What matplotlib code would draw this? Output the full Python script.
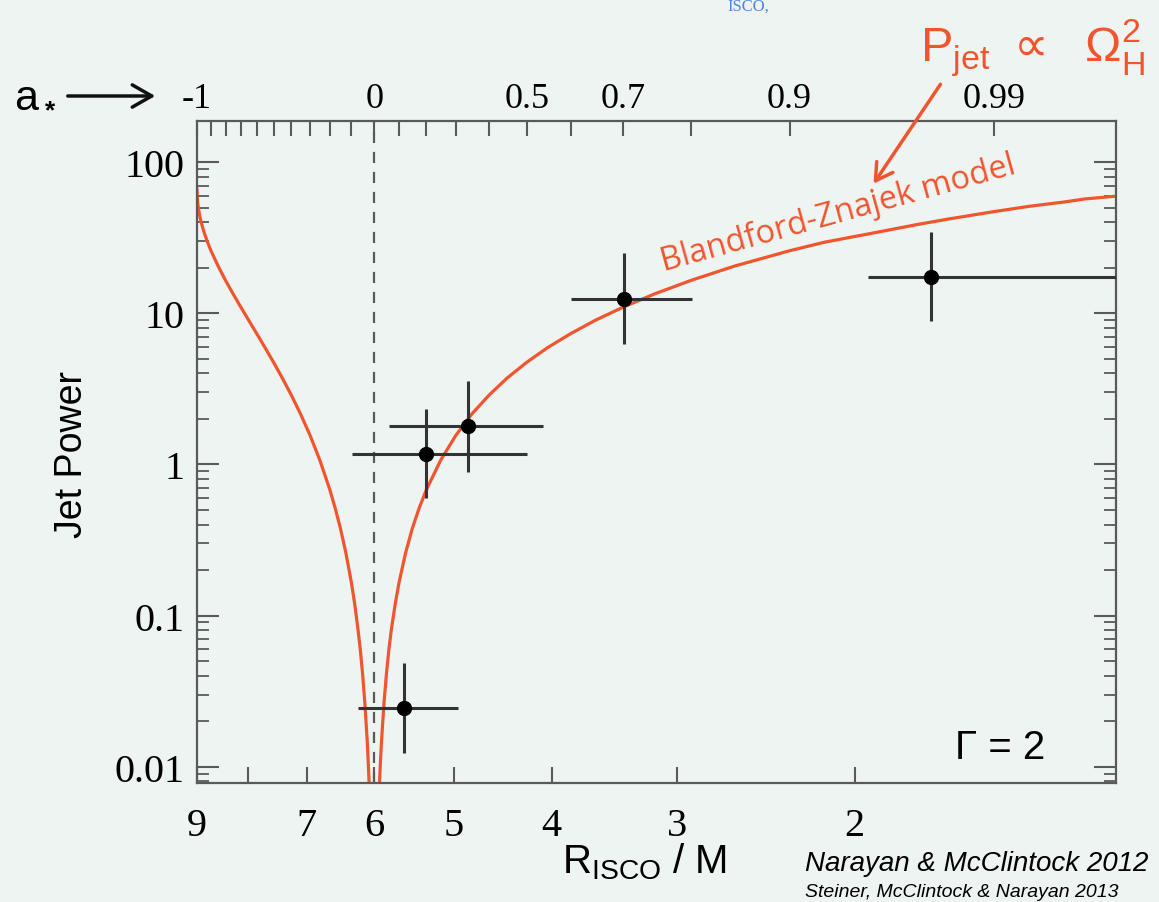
import numpy as np
import matplotlib
matplotlib.use('Agg')
import matplotlib.pyplot as plt

# measured jet powers (Narayan & McClintock 2012)
r_isco_obs = [5.60, 5.33, 4.84, 3.39, 1.68]
r_err_left = [6.23, 6.32, 5.80, 3.83, 1.94]   # larger R end of bar
r_err_right = [4.95, 4.23, 4.08, 2.90, 1.00]  # smaller R end of bar
p_jet = [0.0245, 1.17, 1.79, 12.4, 17.4]
p_err_hi = [0.0486, 2.32, 3.56, 25.0, 34.4]
p_err_lo = [0.0123, 0.60, 0.89, 6.25, 8.9]

# Blandford-Znajek curve (retrograde and prograde branches)
bz_left_r = [9.000, 8.997, 8.986, 8.972, 8.944, 8.916, 8.859, 8.788, 8.717, 8.575,
             8.432, 8.288, 8.143, 7.998, 7.851, 7.704, 7.555, 7.405, 7.254, 7.102,
             6.949, 6.795, 6.639, 6.561, 6.482, 6.403, 6.323, 6.275, 6.228, 6.195,
             6.163, 6.131, 6.098, 6.082, 6.065]
bz_left_p = [66.0, 60.3, 54.0, 49.7, 44.1, 40.2, 34.6, 29.65, 25.9, 20.5,
             16.5, 13.45, 11.0, 9.00, 7.33, 5.93, 4.74, 3.73, 2.875, 2.155,
             1.556, 1.065, 0.674, 0.513, 0.376, 0.260, 0.166, 0.1196, 0.0811, 0.0595,
             0.0413, 0.0264, 0.0149, 0.0103, 0.0066]
bz_right_r = [5.935, 5.918, 5.901, 5.868, 5.835, 5.803, 5.770, 5.719, 5.669, 5.585,
              5.501, 5.415, 5.329, 5.155, 4.979, 4.800, 4.614, 4.427, 4.233, 4.035,
              3.829, 3.617, 3.393, 3.158, 2.907, 2.633, 2.321, 2.143, 1.937, 1.738,
              1.614, 1.455, 1.341, 1.237, 1.182, 1.100]
bz_right_p = [0.0066, 0.0103, 0.0149, 0.0264, 0.0413, 0.0595, 0.0811, 0.1196, 0.166, 0.260,
              0.376, 0.513, 0.674, 1.065, 1.556, 2.155, 2.875, 3.73, 4.74, 5.93,
              7.33, 9.00, 11.0, 13.45, 16.5, 20.5, 25.9, 29.5, 33.5, 38.5,
              42.0, 47.0, 51.0, 54.5, 57.0, 59.5]

# axis ticks
r_ticks = [9, 8, 7, 6, 5, 4, 3, 2]
r_tick_text = ['9', '', '7', '6', '5', '4', '3', '2']
p_ticks = [0.01, 0.1, 1, 10, 100]
p_tick_text = ['0.01', '0.1', '1', '10', '100']
a_ticks = [-1.0, -0.9, -0.8, -0.7, -0.6, -0.5, -0.4, -0.3, -0.2, -0.1, 0.0,
           0.1, 0.2, 0.3, 0.4, 0.5, 0.6, 0.7, 0.8, 0.9, 0.99]
a_tick_text = ['-1', '', '', '', '', '', '', '', '', '', '0',
               '', '', '', '', '0.5', '', '0.7', '', '0.9', '0.99']


def r_isco(a):
    # ISCO radius for spin a (Bardeen et al. 1972), used for the top axis
    a = np.asarray(a, dtype=float)
    z1 = 1 + np.cbrt(1 - a**2) * (np.cbrt(1 + a) + np.cbrt(1 - a))
    z2 = np.sqrt(3 * a**2 + z1**2)
    return 3 + z2 - np.sign(a) * np.sqrt((3 - z1) * (3 + z1 + 2 * z2))


W, H = 1159, 903
bg = '#eef4f1'
red = '#f0552e'
grey = '#5a5a5a'
serif = ['Liberation Serif', 'DejaVu Serif']
sans = ['Liberation Sans', 'DejaVu Sans']

fig = plt.figure(figsize=(W / 100, H / 100), dpi=100, facecolor=bg)
ax = fig.add_axes([197 / W, 1 - 784 / H, (1116 - 197) / W, (784 - 122) / H])
ax.set_facecolor(bg)

ax.set_xscale('log')
ax.set_yscale('log')
ax.set_xlim(9, 1.1)
ax.set_ylim(0.0078, 187)

ax.axvline(6, color=grey, lw=1.6, ls=(0, (5, 4)), zorder=1)
ax.plot(bz_left_r, bz_left_p, color=red, lw=2.3, zorder=2)
ax.plot(bz_right_r, bz_right_p, color=red, lw=2.3, zorder=2)

r = np.array(r_isco_obs)
p = np.array(p_jet)
xerr = [r - np.array(r_err_right), np.array(r_err_left) - r]
yerr = [p - np.array(p_err_lo), np.array(p_err_hi) - p]
ax.errorbar(r, p, xerr=xerr, yerr=yerr, fmt='o', color='black', ms=10,
            ecolor='#333333', elinewidth=2.2, capsize=0, zorder=3)

for s in ax.spines.values():
    s.set_color(grey)
    s.set_linewidth(1.6)

ax.set_xticks(r_ticks)
ax.set_xticklabels(r_tick_text)
ax.xaxis.set_minor_locator(matplotlib.ticker.NullLocator())
ax.set_yticks(p_ticks)
ax.set_yticklabels(p_tick_text)
ax.tick_params(axis='x', which='major', direction='in', length=11.5, width=1.5,
               color=grey, pad=17, labelsize=29, top=False)
ax.tick_params(axis='y', which='major', direction='in', length=16, width=1.5,
               color=grey, pad=9, labelsize=29, right=True)
ax.tick_params(axis='y', which='minor', direction='in', length=8.5, width=1.3,
               color=grey, right=True)
for lab in ax.get_xticklabels() + ax.get_yticklabels():
    lab.set_family(serif)

ax2 = ax.twiny()
ax2.set_xscale('log')
ax2.set_xlim(ax.get_xlim())
ax2.set_xticks(r_isco(a_ticks))
ax2.set_xticklabels(a_tick_text)
ax2.xaxis.set_minor_locator(matplotlib.ticker.NullLocator())
ax2.tick_params(axis='x', which='major', direction='in', length=10.5, width=1.5,
                color=grey, pad=4.5, labelsize=26)
for lab in ax2.get_xticklabels():
    lab.set_family(serif)
for s in ax2.spines.values():
    s.set_visible(False)


def fx(px):
    return px / W


def fy(py):
    return 1 - py / H


fig.text(fx(72), fy(455), 'Jet Power', rotation=90, ha='center', va='center',
         fontsize=27, family=sans)
fig.text(fx(645), fy(862), 'R$_\\mathregular{ISCO}$ / M', ha='center', va='center',
         fontsize=29, family=sans)

# spin axis marker on the left of the top axis
fig.text(fx(14), fy(110), 'a', ha='left', va='baseline', fontsize=31, family=sans)
fig.text(fx(45), fy(118), '*', ha='left', va='baseline', fontsize=19,
         weight='bold', family=sans)
fig.patches.append(matplotlib.patches.FancyArrowPatch(
    (fx(65), fy(97)), (fx(158), fy(97)), transform=fig.transFigure,
    arrowstyle='->,head_length=0.7,head_width=0.4', lw=2.5, color='#111111',
    mutation_scale=20))

fig.text(fx(920), fy(48),
         'P$_\\mathregular{jet}$ $\\propto$  \u03a9$_\\mathregular{H}^\\mathregular{2}$',
         ha='left', va='center', fontsize=35, color=red, family=sans)
fig.patches.append(matplotlib.patches.FancyArrowPatch(
    (fx(942), fy(83)), (fx(872), fy(187)), transform=fig.transFigure,
    arrowstyle='->,head_length=0.6,head_width=0.35', lw=2.5, color=red,
    mutation_scale=20))

fig.text(fx(838), fy(214), 'Blandford-Znajek model', rotation=15.5,
         rotation_mode='anchor', ha='center', va='center', fontsize=23.5,
         color=red, family=['Open Sans', 'DejaVu Sans'])

fig.text(fx(1000), fy(748), '\u0393 = 2', ha='center', va='center',
         fontsize=29, family=sans)

fig.text(fx(805), fy(864), 'Narayan & McClintock 2012', ha='left', va='center',
         fontsize=20, style='italic', family=sans)
fig.text(fx(805), fy(893), 'Steiner, McClintock & Narayan 2013', ha='left',
         va='center', fontsize=14, style='italic', family=sans)

# fragment of the slide title above the plot
fig.text(fx(748), fy(7), 'ISCO,', ha='center', va='center', fontsize=12,
         color='#4a86e8', family=serif)

fig.savefig('out.png', dpi=100, facecolor=bg)
